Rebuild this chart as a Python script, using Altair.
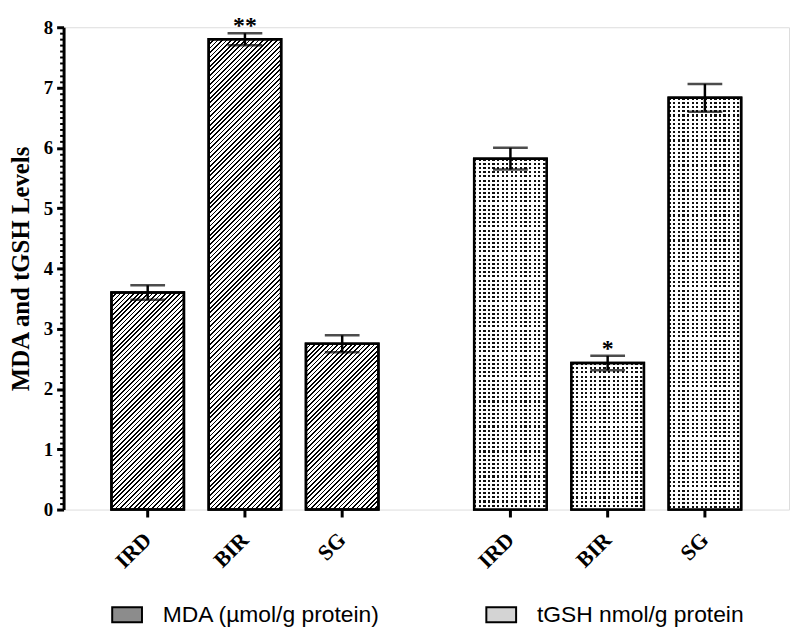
import altair as alt
import pandas as pd

# ---------------- data ----------------
groups = ["MDA", "tGSH"]
series_labels = ["MDA (µmol/g protein)", "tGSH nmol/g protein"]
categories = ["IRD", "BIR", "SG"]
mda_values = [3.60, 7.80, 2.75]
mda_errors = [0.12, 0.10, 0.14]
tgsh_values = [5.82, 2.43, 6.83]
tgsh_errors = [0.18, 0.12, 0.23]
mda_marks = ["", "**", ""]
tgsh_marks = ["", "*", ""]
y_title = "MDA and tGSH Levels"
y_ticks_major = [0, 1, 2, 3, 4, 5, 6, 7, 8]
y_ticks_minor = [round(i * 0.1, 1) for i in range(81) if i % 10 != 0]

rows = []
for g, lab, vals, errs, sigs in zip(groups, series_labels,
                                   [mda_values, tgsh_values],
                                   [mda_errors, tgsh_errors],
                                   [mda_marks, tgsh_marks]):
    for c, v, e, s in zip(categories, vals, errs, sigs):
        rows.append(dict(grp=g, series=lab, cat=c, value=v, err=e, sig=s, key=f"{g}-{c}"))
df = pd.DataFrame(rows)

# ---------------- layout ----------------
PLOT_W, PLOT_H, Y_MAX = 731, 486, 8
PAD_IN, PAD_OUT = 0.255, 0.4925
STEP = (PLOT_W / 2) / (3 - PAD_IN + 2 * PAD_OUT)
BAR_W = STEP * (1 - PAD_IN)
SERIF = "Liberation Serif"
SANS = "Liberation Sans"


def stops_along(length, period, line, on, off):
    st = []
    k = 0
    while k * period < length:
        a = round(k * period / length, 5)
        b = round(min((k * period + line) / length, 1.0), 5)
        c = round(min((k + 1) * period / length, 1.0), 5)
        st += [{"offset": a, "color": on}, {"offset": b, "color": on},
               {"offset": b, "color": off}, {"offset": c, "color": off}]
        k += 1
    return st


def diag_hatch(h):
    total = BAR_W + h
    d = BAR_W ** 2 + h ** 2
    return {"gradient": "linear", "x1": 0, "y1": 0,
            "x2": round(BAR_W * total / d, 6), "y2": round(h * total / d, 6),
            "stops": stops_along(total, 4.6, 1.7, "black", "white")}


def dot_columns():
    return {"gradient": "linear", "x1": 0, "y1": 0, "x2": 1, "y2": 0,
            "stops": stops_along(BAR_W, 4.6, 2.2, "#111111", "white")}


def dot_rows(h):
    return {"gradient": "linear", "x1": 0, "y1": 0, "x2": 0, "y2": 1,
            "stops": stops_along(h, 4.2, 2.1, "rgba(255,255,255,0)", "white")}


base_cond, over_cond = [], []
for r in rows:
    h = r["value"] / Y_MAX * PLOT_H
    test = f"datum.key === '{r['key']}'"
    if r["grp"] == "MDA":
        base_cond.append({"test": test, "value": diag_hatch(h)})
    else:
        base_cond.append({"test": test, "value": dot_columns()})
        over_cond.append({"test": test, "value": dot_rows(h)})

x_enc = alt.X("series:N", sort=series_labels,
              scale=alt.Scale(paddingInner=0, paddingOuter=0),
              axis=alt.Axis(labels=False, ticks=False, title=None,
                            domainWidth=3, domainColor="black"))
x_plain = alt.X("series:N", sort=series_labels, axis=None)
xo = alt.XOffset("cat:N", sort=categories,
                 scale=alt.Scale(paddingInner=PAD_IN, paddingOuter=PAD_OUT))

y_scale = alt.Scale(domain=[0, Y_MAX], nice=False, zero=True)
y_axis_major = alt.Axis(
    title=y_title, values=y_ticks_major, format="d",
    tickSize=7, tickWidth=3, tickColor="black",
    domainWidth=3, domainColor="black",
    labelFont=SERIF, labelFontWeight="bold", labelFontSize=19, labelColor="black",
    labelPadding=4,
    titleFont=SERIF, titleFontWeight="bold", titleFontSize=25, titleColor="black",
    titlePadding=10, grid=False,
)
y_axis_minor = alt.Axis(
    orient="left", values=y_ticks_minor, labels=False, domain=False,
    tickSize=4, tickWidth=2, tickColor="black", title=None, grid=False,
)

base = alt.Chart(df)

bars = base.mark_bar(stroke="black", strokeWidth=2.5).encode(
    x=x_enc, xOffset=xo,
    y=alt.Y("value:Q", scale=y_scale, axis=y_axis_major),
    fill={
        "field": "series", "type": "nominal",
        "scale": {"domain": series_labels, "range": ["#8c8c8c", "#d4d4d4"]},
        "legend": {
            "orient": "none", "legendX": 48, "legendY": 576,
            "direction": "horizontal", "title": None,
            "symbolType": "M-1,-0.5H1V0.5H-1Z", "symbolSize": 900,
            "symbolStrokeColor": "black", "symbolStrokeWidth": 2,
            "labelFont": SANS, "labelFontSize": 23, "labelColor": "black",
            "labelOffset": 20, "labelLimit": 500, "columnPadding": 102,
            "padding": 0,
        },
        "condition": base_cond,
    },
)

overlay = base.mark_bar(stroke="black", strokeWidth=2.5).encode(
    x=x_plain, xOffset=xo,
    y=alt.Y("value:Q", scale=y_scale, axis=y_axis_minor),
    fill={"condition": over_cond, "value": "transparent"},
)

err_base = base.transform_calculate(lo="datum.value - datum.err", hi="datum.value + datum.err")
err_rule = err_base.mark_rule(color="black", strokeWidth=2.5).encode(
    x=x_plain, xOffset=xo, y=alt.Y("lo:Q", scale=y_scale, axis=None), y2="hi:Q")
err_lo = err_base.mark_tick(color="black", size=35, thickness=2.5).encode(
    x=x_plain, xOffset=xo, y=alt.Y("lo:Q", scale=y_scale, axis=None))
err_hi = err_base.mark_tick(color="black", size=35, thickness=2.5).encode(
    x=x_plain, xOffset=xo, y=alt.Y("hi:Q", scale=y_scale, axis=None))

sig = err_base.mark_text(font=SERIF, fontWeight="bold", fontSize=24, color="black",
                         baseline="alphabetic", dy=0).encode(
    x=x_plain, xOffset=xo, y=alt.Y("hi:Q", scale=y_scale, axis=None), text="sig:N")

xticks = base.mark_rule(color="black", strokeWidth=3).encode(
    x=x_plain, xOffset=xo, y=alt.value(PLOT_H), y2=alt.value(PLOT_H + 8))

xlabels = base.mark_text(font=SERIF, fontWeight="bold", fontSize=22, color="black",
                         angle=315, align="right", baseline="middle").encode(
    x=x_plain, xOffset=xo, y=alt.value(PLOT_H + 27), text="cat:N")

chart = alt.layer(bars, overlay, err_rule, err_lo, err_hi, sig, xticks, xlabels).resolve_axis(
    y="independent"
).properties(
    width=PLOT_W, height=PLOT_H,
    autosize=alt.AutoSizeParams(type="none"),
    padding={"left": 56, "top": 17, "right": 3, "bottom": 122},
).configure_view(strokeWidth=0).configure(background="white")

chart.save("out.html", embed_options={"renderer": "svg", "actions": False})
